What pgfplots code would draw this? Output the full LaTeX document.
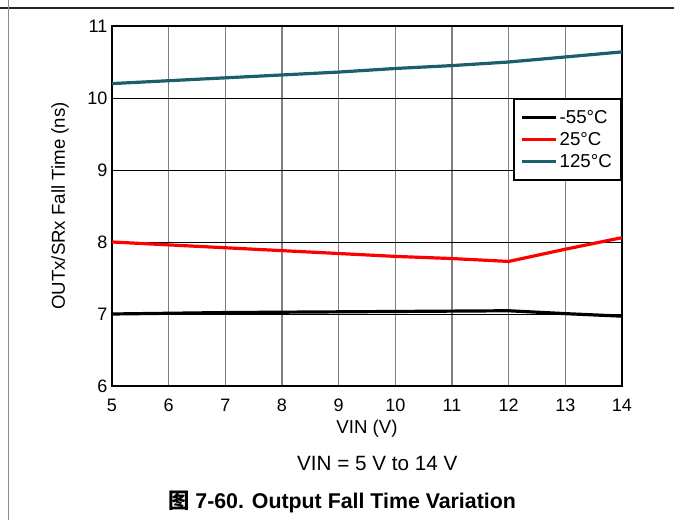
\documentclass[border=0pt]{standalone}
\usepackage{pgfplots}
\pgfplotsset{compat=1.18}
\usepackage{fontspec}
\setmainfont{Liberation Sans}
\newfontfamily\cjk{Noto Sans CJK SC}
\definecolor{teal125}{HTML}{1B5E6C}
\definecolor{red25}{HTML}{FF0000}
\newcommand\tickfont{\fontsize{13.5}{15}\selectfont}
\newcommand\labfont{\fontsize{14}{16}\selectfont}
\newcommand\legfont{\fontsize{14}{16}\selectfont}
\newcommand\subfont{\fontsize{15.5}{18}\selectfont}
\newcommand\titfont{\fontsize{16}{18}\selectfont\bfseries}
\begin{document}
\begin{tikzpicture}
\path[use as bounding box] (0,0) rectangle (505.5pt,390pt);
\draw[line width=0.9pt, black!85] (0,384pt) -- (505.5pt,384pt);
\draw[line width=1.2pt, black!45] (6.5pt,0) -- (6.5pt,390pt);
\begin{axis}[
  at={(84pt,100.5pt)}, anchor=south west,
  scale only axis, width=382.5pt, height=270pt,
  xmin=5, xmax=14, ymin=6, ymax=11,
  xtick={5,...,14}, ytick={6,...,11},
  axis line style={line width=1.8pt},
  tick style={draw=none},
  grid=major,
  x grid style={line width=0.8pt, black!50},
  y grid style={line width=0.6pt, black},
  /pgf/number format/assume math mode=true,
  tick label style={font=\tickfont},
  xticklabel style={yshift=-6pt},
  yticklabel style={xshift=0pt},
  xlabel={VIN (V)},
  ylabel={OUTx/SRx Fall Time (ns)},
  label style={font=\labfont},
  xlabel style={at={(axis description cs:0.5,0)}, anchor=north, yshift=-22pt},
  ylabel style={at={(axis description cs:0,0.5)}, anchor=center, yshift=39pt},
  legend style={at={(axis cs:14,9.99)}, anchor=north east,
    draw=black, line width=1.3pt, font=\legfont,
    row sep=1.2pt, inner xsep=5pt, inner ysep=6pt, cells={anchor=west},
    /tikz/every even column/.append style={column sep=5pt}},
  legend image code/.code={\draw[#1, line width=2.2pt] (0pt,0pt) -- (25pt,0pt);},
]
\addplot[black, line width=2.4pt] coordinates {
 (5,7.00) (6,7.01) (7,7.02) (8,7.025) (9,7.03) (10,7.035) (11,7.04) (12,7.045) (13,7.005) (14,6.97)};
\addlegendentry{-55°C}
\addplot[red25, line width=2.4pt] coordinates {
 (5,8.00) (6,7.96) (7,7.92) (8,7.88) (9,7.84) (10,7.80) (11,7.77) (12,7.73) (13,7.90) (14,8.06)};
\addlegendentry{25°C}
\addplot[teal125, line width=2.4pt] coordinates {
 (5,10.20) (6,10.24) (7,10.28) (8,10.32) (9,10.36) (10,10.41) (11,10.45) (12,10.50) (13,10.57) (14,10.64)};
\addlegendentry{125°C}
\end{axis}
\node[font=\subfont] at (283pt,42.5pt) {VIN = 5 V to 14 V};
\node[font=\titfont] at (256.5pt,13.5pt) {{\cjk 图} 7-60. Output Fall Time Variation};
\end{tikzpicture}
\end{document}
